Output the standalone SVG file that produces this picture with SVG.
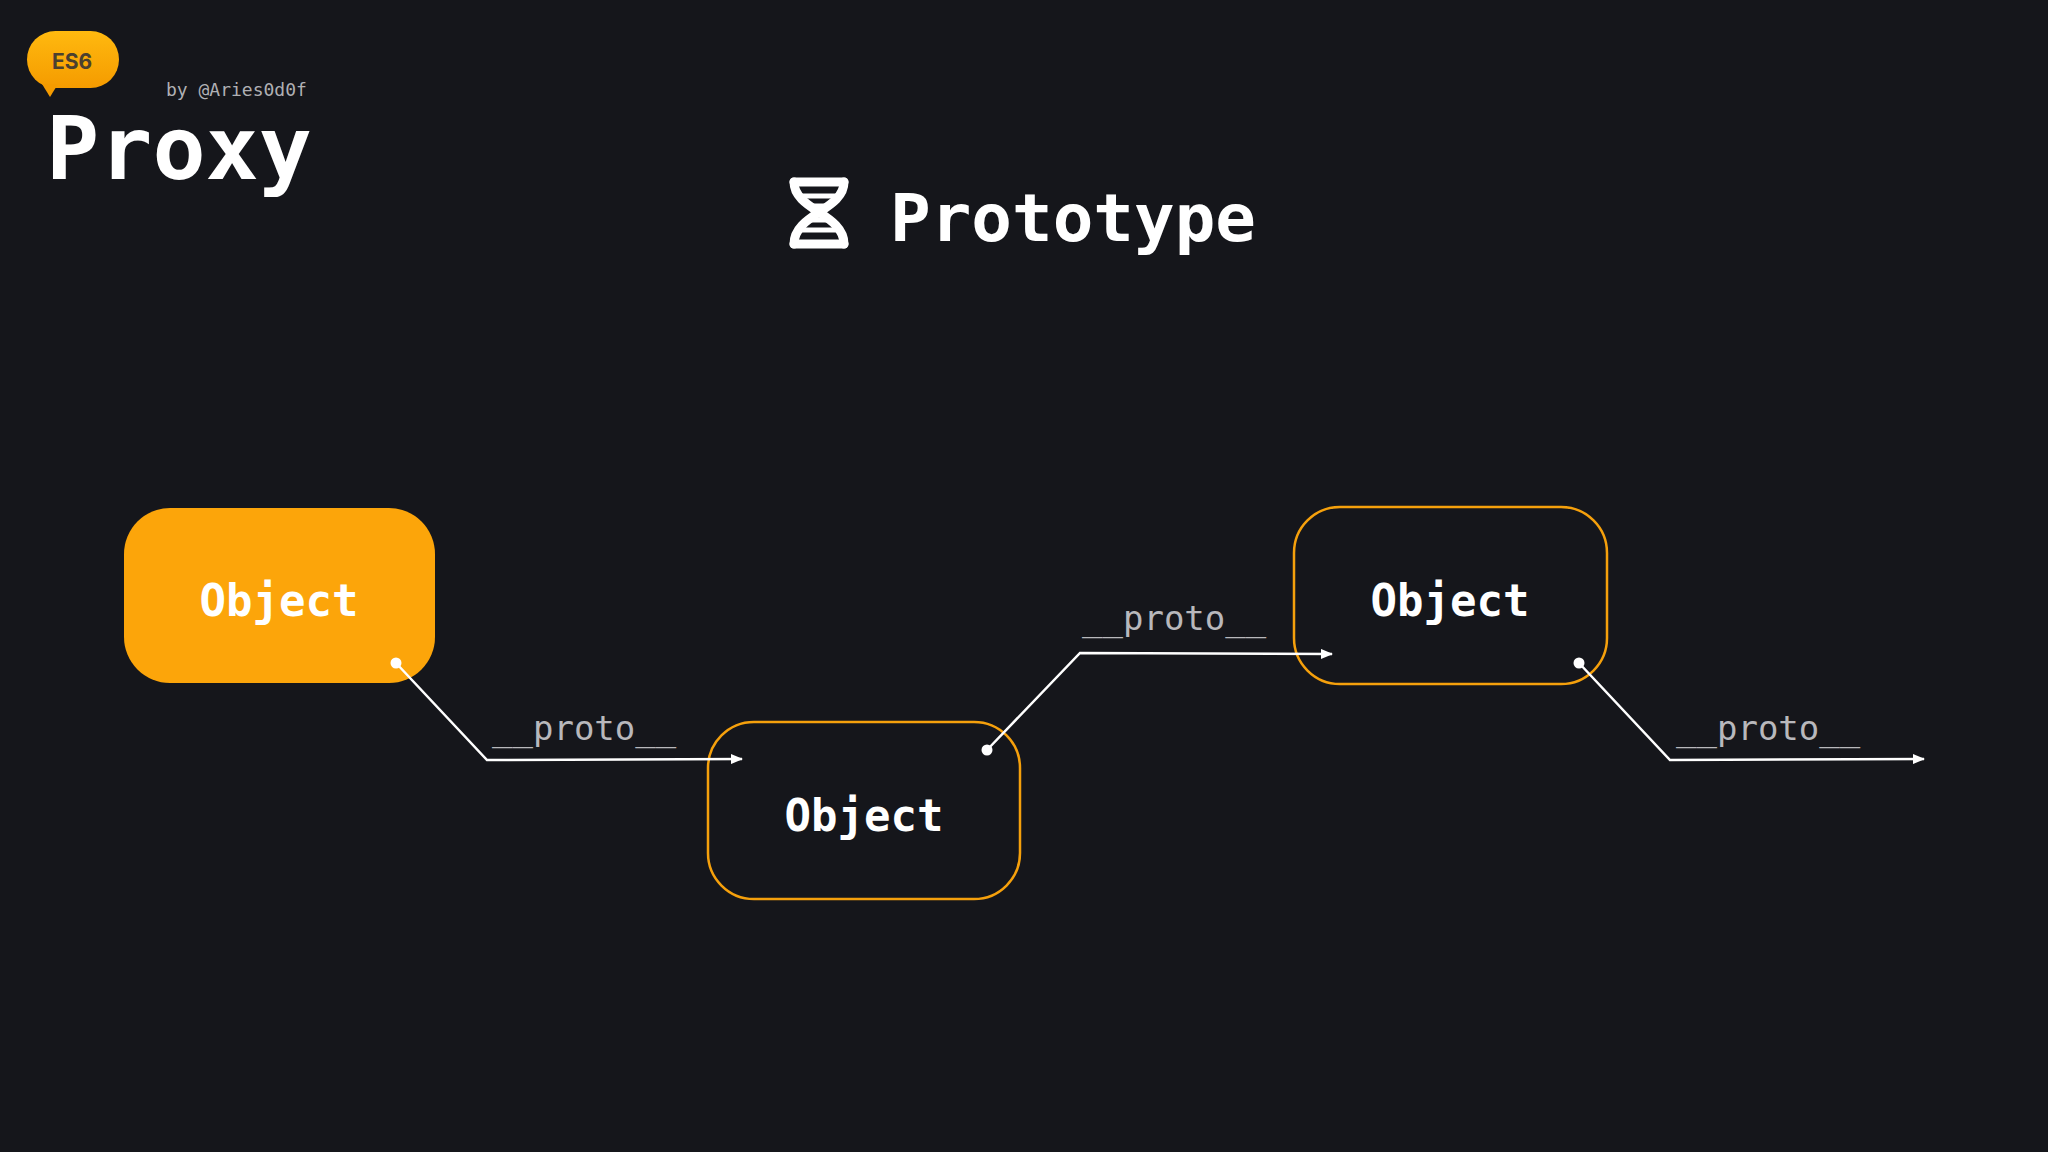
<svg xmlns="http://www.w3.org/2000/svg" width="2048" height="1152" viewBox="0 0 2048 1152">
<defs>
<style>
.mono{font-family:"DejaVu Sans Mono","Liberation Mono",monospace}
.obj{font-family:"DejaVu Sans Mono","Liberation Mono",monospace;font-weight:bold;font-size:44px;fill:#fff;text-anchor:middle}
.lbl{font-family:"DejaVu Sans Mono","Liberation Mono",monospace;font-size:34px;fill:#b8b8bc}
.line{fill:none;stroke:#fff;stroke-width:2.5}
.box{fill:#15161b;stroke:#f5a00c;stroke-width:2.5}
</style>
<marker id="arr" markerWidth="12" markerHeight="10" refX="11" refY="5" orient="auto" markerUnits="userSpaceOnUse"><path d="M0,0L12,5L0,10z" fill="#fff"/></marker>
<linearGradient id="g" x1="0" y1="0" x2="0" y2="1"><stop offset="0" stop-color="#ffb90f"/><stop offset="1" stop-color="#f59b00"/></linearGradient>
</defs>
<rect width="2048" height="1152" fill="#15161b"/>
<g id="header">
<rect x="27" y="31" width="92" height="57" rx="28.5" fill="url(#g)"/>
<path d="M42,84L50,97L58,84z" fill="#f59b00"/>
<text x="72" y="69" font-family="Inter,'Noto Sans',sans-serif" font-weight="bold" font-size="21" fill="#4a4030" text-anchor="middle">ES6</text>
<text x="166" y="96" class="mono" font-size="18" fill="#b0b0b4">by @Aries0d0f</text>
<text x="46" y="179" class="mono" font-size="88" font-weight="bold" fill="#fff" textLength="266" lengthAdjust="spacingAndGlyphs">Proxy</text>
</g>
<g id="title">
<g fill="none" stroke="#fff" stroke-width="9" stroke-linecap="round">
<path d="M794,182C794,210 844,214 844,244"/>
<path d="M844,182C844,210 794,214 794,244"/>
<line x1="794" y1="182" x2="844" y2="182"/>
<line x1="794" y1="244" x2="844" y2="244"/>
</g>
<g stroke="#fff" stroke-width="5"><line x1="800" y1="196" x2="838" y2="196"/><line x1="808" y1="206" x2="830" y2="206"/><line x1="808" y1="220" x2="830" y2="220"/><line x1="800" y1="230" x2="838" y2="230"/></g>
<text x="890" y="241" class="mono" font-size="66" font-weight="bold" fill="#fff" textLength="366" lengthAdjust="spacingAndGlyphs">Prototype</text>
</g>
<g id="node1"><rect x="124" y="508" width="311" height="175" rx="46" fill="#fca50a"/><text x="279" y="616" class="obj">Object</text></g>
<g id="node2"><rect x="708" y="722" width="312" height="177" rx="46" class="box"/><text x="864" y="831" class="obj">Object</text></g>
<g id="node3"><rect x="1294" y="507" width="313" height="177" rx="46" class="box"/><text x="1450" y="616" class="obj">Object</text></g>
<g id="connectors">
<circle cx="396" cy="663" r="5.5" fill="#fff"/>
<polyline points="396,663 487,760 742,759" class="line" marker-end="url(#arr)"/>
<text x="492" y="740" class="lbl">__proto__</text>
<circle cx="987" cy="750" r="5.5" fill="#fff"/>
<polyline points="987,750 1080,653 1332,654" class="line" marker-end="url(#arr)"/>
<text x="1082" y="630" class="lbl">__proto__</text>
<circle cx="1579" cy="663" r="5.5" fill="#fff"/>
<polyline points="1579,663 1670,760 1924,759" class="line" marker-end="url(#arr)"/>
<text x="1676" y="740" class="lbl">__proto__</text>
</g>
</svg>
